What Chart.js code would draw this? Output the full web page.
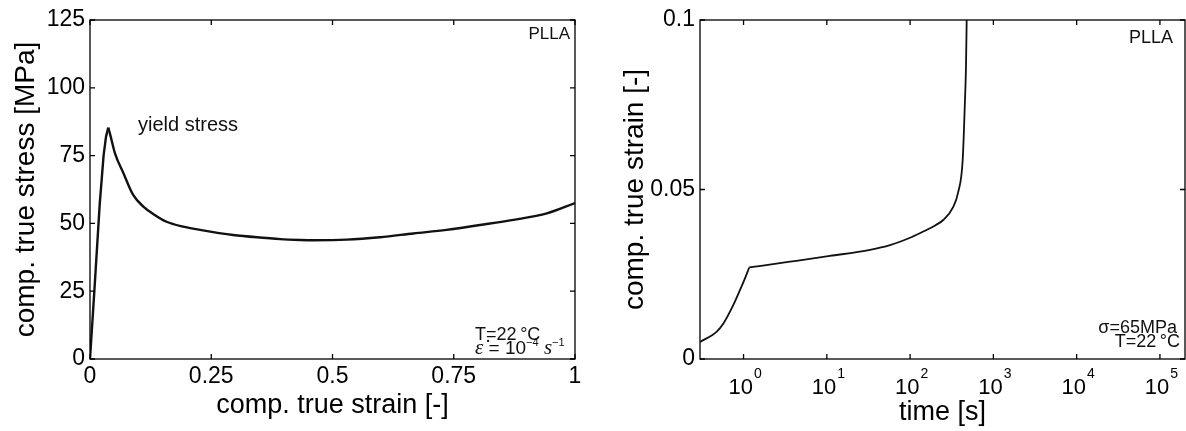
<!DOCTYPE html>
<html><head><meta charset="utf-8">
<script src="https://cdn.jsdelivr.net/npm/chart.js@4.4.1/dist/chart.umd.min.js"></script>
<style>
html,body{margin:0;padding:0;background:#fff;}
#wrap{position:relative;width:1186px;height:431px;overflow:hidden;}
.c{position:absolute;top:0;height:431px;}
</style></head><body>
<div id="wrap">
<div class="c" style="left:0;width:590px;"><canvas id="c1"></canvas></div>
<div class="c" style="left:590px;width:596px;"><canvas id="c2"></canvas></div>
</div>
<script>
// ---- Left chart data: compressive true stress vs true strain ----
const strainX = [0, 0.01, 0.02, 0.028, 0.033, 0.0377, 0.041, 0.0515, 0.069, 0.089, 0.11, 0.131, 0.158, 0.192, 0.227, 0.295, 0.364, 0.392, 0.433, 0.46, 0.529, 0.598, 0.667, 0.735, 0.804, 0.873, 0.942, 1.0];
const stressY = [0, 28, 57, 75, 82, 85.3, 83.2, 75.8, 68.5, 60.5, 56.2, 53.4, 50.6, 48.8, 47.6, 45.7, 44.6, 44.2, 43.9, 43.8, 44.0, 44.9, 46.3, 47.6, 49.4, 51.3, 53.7, 57.5];
const yieldIndex = 5; // peak (yield) point
const strainTicks = [0, 0.25, 0.5, 0.75, 1];
const strainTickLabels = ['0', '0.25', '0.5', '0.75', '1'];
const stressTicks = [0, 25, 50, 75, 100, 125];
const stressTickLabels = ['0', '25', '50', '75', '100', '125'];

// ---- Right chart data: creep strain vs time ----
const timeS = [0.3, 0.477, 0.573, 0.722, 0.908, 1.04, 1.17, 3.61, 10.9, 33, 57.4, 105, 144, 200, 250, 330, 376, 428, 456, 469, 478];
const creepStrain = [0.005, 0.0081, 0.0105, 0.0150, 0.0204, 0.0238, 0.0270, 0.0287, 0.0304, 0.0322, 0.0336, 0.0360, 0.0376, 0.0394, 0.0410, 0.0449, 0.0490, 0.0587, 0.0764, 0.0862, 0.1];
const kinkIndex = 6; // end of loading phase
const timeTicks = [1, 10, 100, 1000, 10000, 100000];
const timeTickExps = ['0', '1', '2', '3', '4', '5'];
const creepTicks = [0, 0.05, 0.1];
const creepTickLabels = ['0', '0.05', '0.1'];

const SANS = '"Liberation Sans", Arial, Helvetica, sans-serif';
const SERIF = '"Liberation Serif", "DejaVu Serif", serif';

function pts(xs, ys, a, b) {
  const out = [];
  for (let i = a; i <= b; i++) out.push({x: xs[i], y: ys[i]});
  return out;
}

const framePlugin = {
  id: 'frame',
  afterDraw(chart) {
    const {ctx, chartArea: a, scales} = chart;
    ctx.save();
    ctx.strokeStyle = '#000';
    ctx.lineWidth = 1.3;
    ctx.strokeRect(a.left, a.top, a.right - a.left, a.bottom - a.top);
    const L = 5;
    ctx.beginPath();
    scales.x.ticks.forEach(t => {
      const p = scales.x.getPixelForValue(t.value);
      ctx.moveTo(p, a.bottom); ctx.lineTo(p, a.bottom - L);
      ctx.moveTo(p, a.top); ctx.lineTo(p, a.top + L);
    });
    scales.y.ticks.forEach(t => {
      const p = scales.y.getPixelForValue(t.value);
      ctx.moveTo(a.left, p); ctx.lineTo(a.left + L, p);
      ctx.moveTo(a.right, p); ctx.lineTo(a.right - L, p);
    });
    ctx.stroke();
    ctx.restore();
  }
};

function drawRich(ctx, parts, x0, y, align) {
  let w = 0;
  parts.forEach(p => { ctx.font = p.f; p.w = ctx.measureText(p.t).width; w += p.w; });
  let x = align === 'right' ? x0 - w : x0;
  ctx.textAlign = 'left';
  ctx.textBaseline = 'alphabetic';
  parts.forEach(p => { ctx.font = p.f; ctx.fillText(p.t, x, y - (p.dy || 0)); x += p.w; });
}

const leftNotes = {
  id: 'leftNotes',
  afterDraw(chart) {
    const {ctx, chartArea: a, scales} = chart;
    ctx.save();
    ctx.fillStyle = '#111';
    ctx.font = '20px ' + SANS;
    ctx.textAlign = 'left'; ctx.textBaseline = 'middle';
    ctx.fillText('yield stress', scales.x.getPixelForValue(0.099), scales.y.getPixelForValue(86));
    ctx.font = '17px ' + SANS;
    ctx.textAlign = 'right';
    ctx.fillText('PLLA', a.right - 5, a.top + 14);
    ctx.textAlign = 'left';
    ctx.font = '18px ' + SANS;
    ctx.fillText('T=22\u2009°C', a.right - 100, a.bottom - 24);
    drawRich(ctx, [
      {t: 'ε\u0307', f: 'italic 21px ' + SERIF},
      {t: ' = 10', f: '19px ' + SANS},
      {t: '\u22124', f: '11px ' + SANS, dy: 8},
      {t: ' ', f: '19px ' + SANS},
      {t: 's', f: 'italic 21px ' + SERIF},
      {t: '\u22121', f: '11px ' + SANS, dy: 8}
    ], a.right - 100, a.bottom - 5, 'left');
    ctx.restore();
  }
};

const rightNotes = {
  id: 'rightNotes',
  afterDraw(chart) {
    const {ctx, chartArea: a, scales} = chart;
    ctx.save();
    ctx.fillStyle = '#111';
    ctx.font = '18px ' + SANS;
    ctx.textAlign = 'right'; ctx.textBaseline = 'middle';
    ctx.fillText('PLLA', a.right - 12, a.top + 18);
    ctx.fillText('σ=65MPa', a.right - 8, a.bottom - 31);
    ctx.fillText('T=22\u2009°C', a.right - 5, a.bottom - 17);
    // log x tick labels: 10 with superscript exponent
    const sx = scales.x;
    timeTicks.forEach((v, i) => {
      const p = sx.getPixelForValue(v);
      ctx.font = '22px ' + SANS;
      const w1 = ctx.measureText('10').width;
      ctx.font = '14px ' + SANS;
      const w2 = ctx.measureText(timeTickExps[i]).width;
      const x0 = p - (w1 + w2) / 2 + 1;
      ctx.textAlign = 'left'; ctx.textBaseline = 'alphabetic';
      ctx.fillStyle = '#000';
      ctx.font = '22px ' + SANS;
      ctx.fillText('10', x0, a.bottom + 35);
      ctx.font = '14px ' + SANS;
      ctx.fillText(timeTickExps[i], x0 + w1 + 1, a.bottom + 19);
    });
    ctx.restore();
  }
};

Chart.defaults.font.family = SANS;
Chart.defaults.color = '#000';

const lineStyle = (w, smooth) => ({showLine: true, borderColor: '#111', borderWidth: w, pointRadius: 0,
  tension: smooth ? 0.4 : 0, cubicInterpolationMode: smooth ? 'monotone' : 'default'});

new Chart(document.getElementById('c1'), {
  type: 'scatter',
  data: { datasets: [
    Object.assign({data: pts(strainX, stressY, 0, yieldIndex)}, lineStyle(2.4, false)),
    Object.assign({data: pts(strainX, stressY, yieldIndex, strainX.length - 1)}, lineStyle(2.4, true))
  ]},
  options: {
    responsive: true, maintainAspectRatio: false, animation: false, events: [],
    layout: {padding: {top: 20, right: 15, left: 0, bottom: 0}},
    plugins: {legend: {display: false}, tooltip: {enabled: false}},
    scales: {
      x: {
        type: 'linear', min: 0, max: 1,
        afterBuildTicks: s => { s.ticks = strainTicks.map(v => ({value: v})); },
        afterFit: s => { s.height = 72; },
        grid: {display: false, drawTicks: false},
        border: {display: false},
        ticks: {font: {size: 23}, padding: 4, maxRotation: 0, autoSkip: false,
          callback: v => strainTickLabels[strainTicks.indexOf(v)]},
        title: {display: true, text: 'comp. true strain [-]', font: {size: 27}, padding: {top: 0, bottom: 9}}
      },
      y: {
        type: 'linear', min: 0, max: 125,
        afterBuildTicks: s => { s.ticks = stressTicks.map(v => ({value: v})); },
        afterFit: s => { s.width = 90; },
        grid: {display: false, drawTicks: false},
        border: {display: false},
        ticks: {font: {size: 23}, padding: 5, autoSkip: false,
          callback: v => stressTickLabels[stressTicks.indexOf(v)]},
        title: {display: true, text: 'comp. true stress [MPa]', font: {size: 28}, padding: {top: 9, bottom: 0}}
      }
    }
  },
  plugins: [framePlugin, leftNotes]
});

new Chart(document.getElementById('c2'), {
  type: 'scatter',
  data: { datasets: [
    Object.assign({data: pts(timeS, creepStrain, 0, kinkIndex)}, lineStyle(1.8, true)),
    Object.assign({data: pts(timeS, creepStrain, kinkIndex, timeS.length - 1)}, lineStyle(1.8, true))
  ]},
  options: {
    responsive: true, maintainAspectRatio: false, animation: false, events: [],
    layout: {padding: {top: 20, right: 1, left: 0, bottom: 0}},
    plugins: {legend: {display: false}, tooltip: {enabled: false}},
    scales: {
      x: {
        type: 'logarithmic', min: 0.3, max: 200000,
        afterBuildTicks: s => { s.ticks = timeTicks.map(v => ({value: v})); },
        afterFit: s => { s.height = 72; },
        grid: {display: false, drawTicks: false},
        border: {display: false},
        ticks: {display: false},
        title: {display: true, text: 'time [s]', font: {size: 27}, padding: {top: 0, bottom: 2}}
      },
      y: {
        type: 'linear', min: 0, max: 0.1,
        afterBuildTicks: s => { s.ticks = creepTicks.map(v => ({value: v})); },
        afterFit: s => { s.width = 110; },
        grid: {display: false, drawTicks: false},
        border: {display: false},
        ticks: {font: {size: 23}, padding: 5, autoSkip: false,
          callback: v => creepTickLabels[creepTicks.indexOf(v)]},
        title: {display: true, text: 'comp. true strain [-]', font: {size: 28}, padding: {top: 28, bottom: 0}}
      }
    }
  },
  plugins: [framePlugin, rightNotes]
});
</script>
</body></html>
